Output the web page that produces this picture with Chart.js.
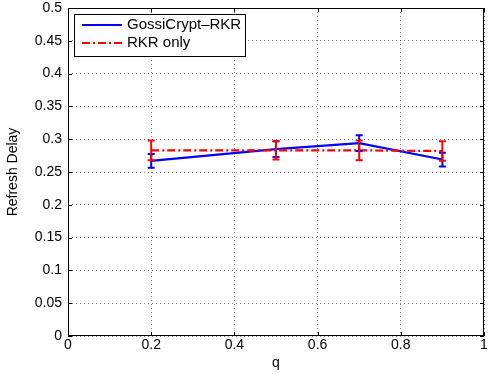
<!DOCTYPE html>
<html>
<head>
<meta charset="utf-8">
<script src="https://cdn.jsdelivr.net/npm/chart.js@4"></script>
<style>
  html, body { margin: 0; padding: 0; background: #fff; }
  #wrap { width: 490px; height: 374px; }
</style>
</head>
<body>
<div id="wrap"><canvas id="c" width="490" height="374"></canvas></div>
<script>
const qValues = [0.2, 0.5, 0.7, 0.9];
const gossiDelay = [0.267, 0.285, 0.294, 0.269];
const gossiErr = [0.0105, 0.012, 0.012, 0.0105];
const rkrDelay = [0.283, 0.283, 0.283, 0.282];
const rkrErr = [0.015, 0.014, 0.015, 0.015];
const xTicks = [0, 0.2, 0.4, 0.6, 0.8, 1];
const yTicks = [0, 0.05, 0.1, 0.15, 0.2, 0.25, 0.3, 0.35, 0.4, 0.45, 0.5];

const FONT = "'Liberation Sans', Arial, sans-serif";

function points(ys) {
  return qValues.map((x, i) => ({ x, y: ys[i] }));
}

// error bars drawn through the scales
const errorBars = {
  id: "errorBars",
  afterDatasetsDraw(chart) {
    const { ctx, scales: { x, y } } = chart;
    chart.data.datasets.forEach(ds => {
      ctx.save();
      ctx.strokeStyle = ds.borderColor;
      ctx.lineWidth = 2;
      ds.data.forEach((p, i) => {
        const px = x.getPixelForValue(p.x);
        const top = y.getPixelForValue(p.y + ds.err[i]);
        const bot = y.getPixelForValue(p.y - ds.err[i]);
        ctx.beginPath();
        ctx.moveTo(px, top); ctx.lineTo(px, bot);
        ctx.moveTo(px - 3.5, top); ctx.lineTo(px + 3.5, top);
        ctx.moveTo(px - 3.5, bot); ctx.lineTo(px + 3.5, bot);
        ctx.stroke();
      });
      ctx.restore();
    });
  }
};

// box, inward ticks and legend, matlab style
const frame = {
  id: "frame",
  afterDraw(chart) {
    const { ctx, chartArea: a, scales: { x, y } } = chart;
    ctx.save();
    ctx.strokeStyle = "#000";
    ctx.lineWidth = 1;
    ctx.strokeRect(a.left + 0.5, a.top + 0.5, a.right - a.left - 1, a.bottom - a.top - 1);
    ctx.beginPath();
    xTicks.forEach(v => {
      const px = Math.round(x.getPixelForValue(v)) + 0.5;
      ctx.moveTo(px, a.bottom); ctx.lineTo(px, a.bottom - 4);
      ctx.moveTo(px, a.top); ctx.lineTo(px, a.top + 4);
    });
    yTicks.forEach(v => {
      const py = Math.round(y.getPixelForValue(v)) + 0.5;
      ctx.moveTo(a.left, py); ctx.lineTo(a.left + 4, py);
      ctx.moveTo(a.right, py); ctx.lineTo(a.right - 4, py);
    });
    ctx.stroke();

    // legend
    const lx = 74, ly = 14, lw = 171, lh = 42;
    ctx.fillStyle = "#fff";
    ctx.fillRect(lx, ly, lw, lh);
    ctx.strokeRect(lx + 0.5, ly + 0.5, lw, lh);
    ctx.font = "15px " + FONT;
    ctx.textBaseline = "middle";
    const rows = [chart.data.datasets[0], chart.data.datasets[1]];
    rows.forEach((ds, i) => {
      const cy = ly + 11 + i * 18;
      ctx.strokeStyle = ds.borderColor;
      ctx.lineWidth = 2;
      ctx.setLineDash(ds.borderDash || []);
      ctx.beginPath();
      ctx.moveTo(82, cy); ctx.lineTo(122, cy);
      ctx.stroke();
      ctx.setLineDash([]);
      ctx.fillStyle = "#000";
      ctx.fillText(ds.label, 127, cy);
    });
    ctx.restore();
  }
};

new Chart(document.getElementById("c"), {
  type: "line",
  data: {
    datasets: [
      {
        label: "GossiCrypt\u2013RKR",
        data: points(gossiDelay),
        err: gossiErr,
        borderColor: "#0000ff",
        borderWidth: 2.2,
        pointRadius: 0,
        tension: 0,
        order: 1
      },
      {
        label: "RKR only",
        data: points(rkrDelay),
        err: rkrErr,
        borderColor: "#ff0000",
        borderWidth: 2.2,
        borderDash: [8, 3, 2, 3],
        pointRadius: 0,
        tension: 0,
        order: 0
      }
    ]
  },
  options: {
    responsive: false,
    animation: false,
    layout: { padding: { left: 0, right: 6, top: 8, bottom: 0 } },
    plugins: { legend: { display: false }, tooltip: { enabled: false } },
    scales: {
      x: {
        type: "linear",
        min: 0, max: 1,
        afterBuildTicks: s => { s.ticks = xTicks.map(v => ({ value: v })); },
        afterFit: s => { s.height = 38; s.paddingLeft = 0; s.paddingRight = 0; },
        ticks: {
          color: "#000", padding: 1,
          font: { family: FONT, size: 14 },
          callback: v => String(v)
        },
        grid: { color: "rgba(0,0,0,0.5)", drawTicks: false },
        border: { display: false, dash: [1, 3] },
        title: {
          display: true, text: "q", color: "#000",
          font: { family: FONT, size: 14 }, padding: { top: 0, bottom: 2 }
        }
      },
      y: {
        min: 0, max: 0.5,
        afterBuildTicks: s => { s.ticks = yTicks.map(v => ({ value: v })); },
        afterFit: s => { s.width = 68; s.paddingTop = 0; s.paddingBottom = 0; },
        ticks: {
          color: "#000", padding: 6,
          font: { family: FONT, size: 14 },
          callback: v => String(+v.toFixed(2))
        },
        grid: { color: "rgba(0,0,0,0.5)", drawTicks: false },
        border: { display: false, dash: [1, 3] },
        title: {
          display: true, text: "Refresh Delay", color: "#000",
          font: { family: FONT, size: 14 }, padding: { top: 5, bottom: 0 }
        }
      }
    }
  },
  plugins: [errorBars, frame]
});
</script>
</body>
</html>
